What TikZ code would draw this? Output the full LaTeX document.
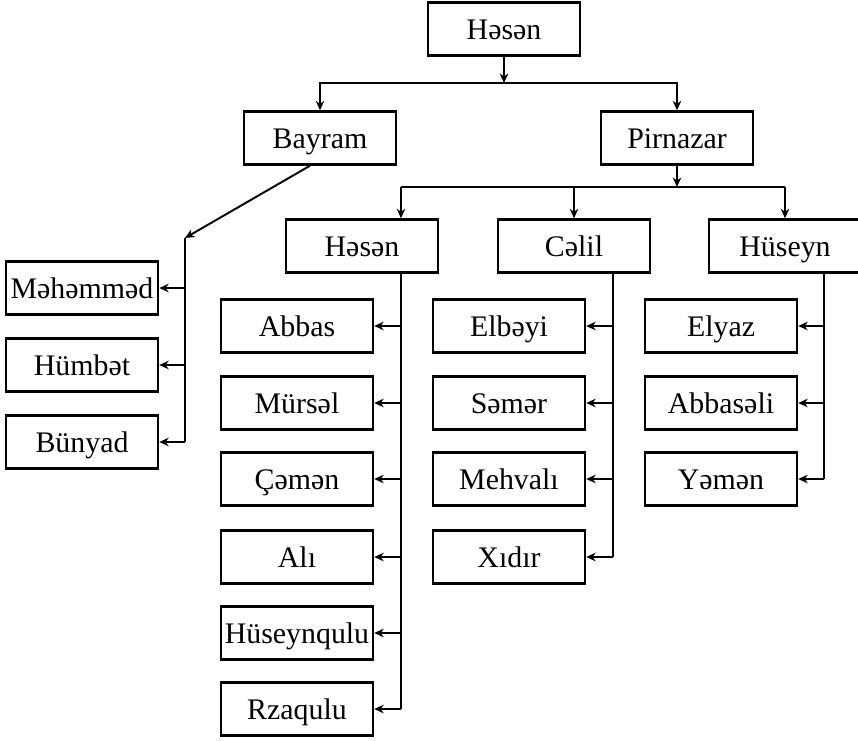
\documentclass[tikz,border=0pt]{standalone}
\usepackage{fontspec}
\setmainfont{Liberation Serif}
\usetikzlibrary{arrows.meta}

\begin{document}
\begin{tikzpicture}[x=0.02cm, y=-0.02cm, line width=1.1pt, >={Stealth[length=1.9mm,width=1.7mm]},
	person/.style={draw, line width=1.4pt, minimum width=3.04cm, minimum height=1.06cm, inner sep=0pt, text height=11.4pt, text depth=0pt, font=\fontsize{17}{20}\selectfont}]
	\useasboundingbox (0,0) rectangle (858,740);
	\node[person] (root) at (504,29) {Həsən};
	\node[person] (bayram) at (320,138) {Bayram};
	\node[person] (pirnazar) at (677,138) {Pirnazar};
	\node[person] (hasanb) at (362,246) {Həsən};
	\node[person] (celil) at (574,246) {Cəlil};
	\node[person] (huseyn) at (785,246) {Hüseyn};
	\foreach \n/\y/\t in {mehemmed/288/Məhəmməd, humbet/365/Hümbət, bunyad/442/Bünyad}
		\node[person] (\n) at (82,\y) {\t};
	\foreach \n/\y/\t in {abbas/326/Abbas, mursel/403/Mürsəl, cemen/479/Çəmən, ali/557/Alı, huseynqulu/633/Hüseynqulu, rzaqulu/709/Rzaqulu}
		\node[person] (\n) at (297,\y) {\t};
	\foreach \n/\y/\t in {elbeyi/326/Elbəyi, semer/403/Səmər, mehvali/479/Mehvalı, xidir/557/Xıdır}
		\node[person] (\n) at (509,\y) {\t};
	\foreach \n/\y/\t in {elyaz/326/Elyaz, abbaseli/403/Abbasəli, yemen/479/Yəmən}
		\node[person] (\n) at (721,\y) {\t};
	\coordinate (top) at (504,83);
	\draw[->] (root.south) -- (top);
	\draw[->] (top) -| (bayram.north);
	\draw[->] (top) -| (pirnazar.north);
	\coordinate (bj) at (185,238);
	\draw[->] ([xshift=-0.2cm]bayram.south) -- (bj);
	\draw (bj) -- (bj |- bunyad.east);
	\foreach \n in {mehemmed,humbet,bunyad}
		\draw[->] (bj |- \n.east) -- (\n.east);
	\coordinate (pbus) at (677,187);
	\coordinate (ht) at ([xshift=0.78cm]hasanb.south);
	\coordinate (ct) at ([xshift=0.78cm]celil.south);
	\coordinate (st) at ([xshift=0.78cm]huseyn.south);
	\draw[->] (pirnazar.south) -- (pbus);
	\draw (ht |- pbus) -- (huseyn.north |- pbus);
	\draw[->] (ht |- pbus) -- (ht |- hasanb.north);
	\draw[->] (celil.north |- pbus) -- (celil.north);
	\draw[->] (huseyn.north |- pbus) -- (huseyn.north);
	\draw (ht) -- (ht |- rzaqulu.east);
	\foreach \n in {abbas,mursel,cemen,ali,huseynqulu,rzaqulu}
		\draw[->] (ht |- \n.east) -- (\n.east);
	\draw (ct) -- (ct |- xidir.east);
	\foreach \n in {elbeyi,semer,mehvali,xidir}
		\draw[->] (ct |- \n.east) -- (\n.east);
	\draw (st) -- (st |- yemen.east);
	\foreach \n in {elyaz,abbaseli,yemen}
		\draw[->] (st |- \n.east) -- (\n.east);
\end{tikzpicture}
\end{document}
